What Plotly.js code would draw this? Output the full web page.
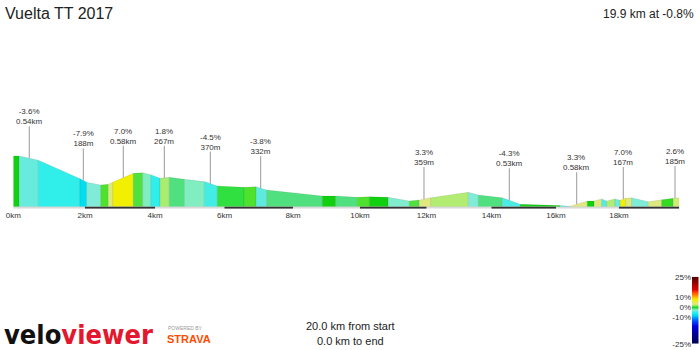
<!DOCTYPE html>
<html><head><meta charset="utf-8">
<script src="https://cdn.plot.ly/plotly-3.0.1.min.js"></script>
<style>html,body{margin:0;padding:0;background:#fff;}#chart{width:700px;height:350px;}</style>
</head><body><div id="chart"></div>
<script>
// ---- data ----
const routeTitle = 'Vuelta TT 2017';
const summaryText = '19.9 km at -0.8%';
const fromStart = '20.0 km from start';
const toEnd = '0.0 km to end';
const baseElev = 370;
const km = [0,0.18,0.751,2.003,2.204,2.625,2.853,2.985,3.604,3.886,4.126,4.405,4.685,5.141,5.736,6.126,6.928,7.288,7.61,9.279,9.682,10.33,10.691,11.261,11.892,12.192,12.535,13.664,13.964,14.685,15.222,16.417,16.718,17.237,17.438,17.67,17.82,18.069,18.228,18.387,18.571,19.069,19.471,19.82,20.0];
const elev = [598,598,579,496,480,468,471,480,520,523,514,498,502,493,483,463,457,460,445,418,418,412,415,412,396,400,410,435,423,410,381,375,372,396,396,405,396,405,399,408,410,392,401,408,410];
const grade = [0,-3.6,-5,-7.9,-3,0.5,3,7,1,-2.5,-5,1.8,-1.5,-2.5,-4.5,-0.5,0.5,-3.8,-1.5,0,-1.5,0.5,0,-2.8,1,3.3,2,-3,-1.5,-4.3,0,-4,3.3,0,3,-4,2,-3.5,7,3,-3,3,0.3,2.6];
const tickKm = [0,2.153,4.255,6.342,8.399,10.411,12.408,14.36,16.297,18.189];
const tickText = ['0km','2km','4km','6km','8km','10km','12km','14km','16km','18km'];
const calloutKm = [0.48,2.102,3.303,4.535,5.916,7.429,12.333,14.895,16.919,18.318,19.871];
const calloutGrade = ['-3.6%','-7.9%','7.0%','1.8%','-4.5%','-3.8%','3.3%','-4.3%','3.3%','7.0%','2.6%'];
const calloutLen = ['0.54km','188m','0.58km','267m','370m','332m','359m','0.53km','0.58km','167m','185m'];
const scaleGrades = [25,10,0,-10,-25];
const scaleLabels = ['25%','10%','0%','-10%','-25%'];
const scalePos = [0,0.30,0.46,0.61,1.0];
// gradient palette
const gradeStops = [-25,-20,-15,-12,-10,-8,-5,-4,-3,-2.5,-1.5,-0.5,0,0.5,1,1.8,2.6,3.3,5,7,9,11,13,15,19,22,25];
const colorStops = ['#00004a','#000090','#0000e0','#0050ff','#00a0ff','#00dcf0','#30eeea','#55ebe0','#80ecd8','#80eec0','#50e080','#30e040','#10d010','#4ee22e','#50e040','#a8ec70','#d4ea78','#e0e880','#e8ec40','#f0f000','#ffc000','#ff8000','#ff4000','#e00000','#b00000','#800000','#500000'];

// ---- helpers ----
function hex2rgb(h){return [parseInt(h.slice(1,3),16),parseInt(h.slice(3,5),16),parseInt(h.slice(5,7),16)];}
function gradeColor(g){
  if(g<=gradeStops[0]) return colorStops[0];
  for(let i=1;i<gradeStops.length;i++){
    if(g<=gradeStops[i]){
      const t=(g-gradeStops[i-1])/(gradeStops[i]-gradeStops[i-1]);
      const a=hex2rgb(colorStops[i-1]), b=hex2rgb(colorStops[i]);
      return 'rgb('+a.map((v,j)=>Math.round(v+(b[j]-v)*t)).join(',')+')';
    }
  }
  return colorStops[colorStops.length-1];
}
function elevAt(x){
  for(let i=1;i<km.length;i++){ if(x<=km[i]){const t=(x-km[i-1])/(km[i]-km[i-1]);return elev[i-1]+(elev[i]-elev[i-1])*t;} }
  return elev[elev.length-1];
}

const W=700,H=350;
const plotTop=100, plotBot=208.7, plotL=13.3, plotR=679.3;
const yRange=[361,850];
const ePerPx=(yRange[1]-yRange[0])/(plotBot-plotTop);

const traces=[];
for(let i=0;i<grade.length;i++){
  traces.push({type:'scatter',mode:'lines',x:[km[i],km[i],km[i+1],km[i+1],km[i]],y:[baseElev,elev[i],elev[i+1],baseElev,baseElev],
    fill:'toself',fillcolor:gradeColor(grade[i]),line:{color:'rgba(0,0,0,0.13)',width:0.6},hoverinfo:'skip'});
}
// distance bar
const barY = baseElev - 1*ePerPx;
traces.push({type:'scatter',mode:'lines',x:[0,km[km.length-1]],y:[barY,barY],line:{color:'#d9d9d9',width:2},hoverinfo:'skip'});
const bx=[],by=[];
for(let i=1;i<tickKm.length;i+=2){ bx.push(tickKm[i], (i+1<tickKm.length?tickKm[i+1]:km[km.length-1]), null); by.push(barY,barY,null); }
traces.push({type:'scatter',mode:'lines',x:bx,y:by,line:{color:'#333333',width:2},hoverinfo:'skip'});
// callout lines
const cx=[],cy=[];
const annotations=[];
calloutKm.forEach((k,i)=>{
  const e=elevAt(k);
  cx.push(k,k,null); cy.push(e, e+32*ePerPx, null);
  annotations.push({x:k,y:e+41.5*ePerPx,xref:'x',yref:'y',text:calloutGrade[i]+'<br>'+calloutLen[i],showarrow:false,xanchor:'center',yanchor:'middle',borderpad:0,font:{family:'Liberation Sans, Arial',size:8,color:'#333'}});
});
traces.push({type:'scatter',mode:'lines',x:cx,y:cy,line:{color:'#999999',width:1},hoverinfo:'skip'});

// scale bar heatmap
const N=68, hy=[], hz=[];
function posToGrade(p){
  for(let i=1;i<scalePos.length;i++){ if(p<=scalePos[i]){const t=(p-scalePos[i-1])/(scalePos[i]-scalePos[i-1]);return scaleGrades[i-1]+(scaleGrades[i]-scaleGrades[i-1])*t;} }
  return scaleGrades[scaleGrades.length-1];
}
for(let i=0;i<N;i++){const p=(i+0.5)/N; hy.push(p); hz.push([posToGrade(p)]);}
const cs=gradeStops.map((g,i)=>[(g+25)/50,colorStops[i]]);
traces.push({type:'heatmap',x:[0],y:hy,z:hz,colorscale:cs,zmin:-25,zmax:25,showscale:false,xaxis:'x2',yaxis:'y2',hoverinfo:'skip'});

const px=(v)=>v/W, py=(v)=>1-v/H;
annotations.push({xref:'paper',yref:'paper',x:px(3),y:py(13),xanchor:'left',yanchor:'middle',text:routeTitle,showarrow:false,font:{family:'Liberation Sans, Arial',size:16,color:'#222'}});
annotations.push({xref:'paper',yref:'paper',x:px(696),y:py(14),xanchor:'right',yanchor:'middle',text:summaryText,showarrow:false,font:{family:'Liberation Sans, Arial',size:12,color:'#222'}});
annotations.push({xref:'paper',yref:'paper',x:px(350),y:py(326),xanchor:'center',yanchor:'middle',text:fromStart,showarrow:false,font:{family:'Liberation Sans, Arial',size:11,color:'#222'}});
annotations.push({xref:'paper',yref:'paper',x:px(350),y:py(341),xanchor:'center',yanchor:'middle',text:toEnd,showarrow:false,font:{family:'Liberation Sans, Arial',size:11,color:'#222'}});
annotations.push({xref:'paper',yref:'paper',x:px(2),y:py(334),xanchor:'left',yanchor:'middle',text:"velo<span style='color:#e3172d'>viewer</span>",showarrow:false,font:{family:'DejaVu Sans Condensed, DejaVu Sans',size:27,weight:'bold',color:'#111'}});
annotations.push({xref:'paper',yref:'paper',x:px(166),y:py(328),xanchor:'left',yanchor:'middle',text:'POWERED BY',showarrow:false,font:{family:'Liberation Sans, Arial',size:5,color:'#999'}});
annotations.push({xref:'paper',yref:'paper',x:px(165),y:py(339),xanchor:'left',yanchor:'middle',text:'STRAVA',showarrow:false,font:{family:'Liberation Sans, Arial',size:11,weight:'bold',color:'#fc4c02'}});

const layout={
  width:W,height:H,margin:{l:0,r:0,t:0,b:0},paper_bgcolor:'#fff',plot_bgcolor:'rgba(0,0,0,0)',showlegend:false,
  xaxis:{domain:[px(plotL),px(plotR)],range:[0,20],showgrid:false,zeroline:false,showline:false,ticks:'',tickvals:tickKm,ticktext:tickText,tickfont:{family:'Liberation Sans, Arial',size:8,color:'#333'},fixedrange:true},
  yaxis:{domain:[1-plotBot/H,1-plotTop/H],range:yRange,visible:false,fixedrange:true},
  xaxis2:{domain:[px(692),px(698.5)],range:[-0.5,0.5],visible:false,anchor:'y2'},
  yaxis2:{domain:[1-343.7/H,1-276.7/H],range:[1,0],anchor:'x2',showgrid:false,zeroline:false,ticks:'',tickvals:scalePos,ticktext:scaleLabels,tickfont:{family:'Liberation Sans, Arial',size:8,color:'#333'}},
  annotations:annotations
};
Plotly.newPlot('chart',traces,layout,{displayModeBar:false,staticPlot:true});
</script></body></html>
